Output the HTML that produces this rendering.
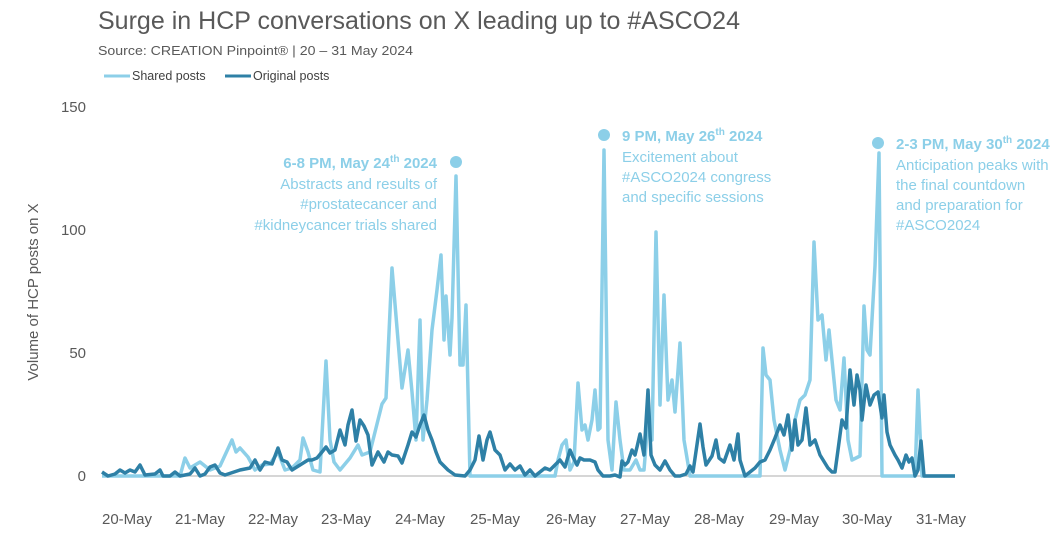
<!DOCTYPE html>
<html><head><meta charset="utf-8"><style>
body{margin:0;background:#fff;}
svg{display:block;font-family:"Liberation Sans",sans-serif;}
</style></head><body>
<svg width="1062" height="540" viewBox="0 0 1062 540">
<text x="98" y="29" font-size="25" fill="#595959" textLength="642" lengthAdjust="spacingAndGlyphs">Surge in HCP conversations on X leading up to #ASCO24</text>
<text x="98" y="55" font-size="13" fill="#595959" textLength="315" lengthAdjust="spacingAndGlyphs">Source: CREATION Pinpoint® |  20 – 31 May 2024</text>
<line x1="104" y1="76" x2="130" y2="76" stroke="#8ccfe8" stroke-width="3"/>
<text x="132" y="80" font-size="12.5" fill="#404040">Shared posts</text>
<line x1="225" y1="76" x2="251" y2="76" stroke="#2e80a6" stroke-width="3"/>
<text x="253" y="80" font-size="12.5" fill="#404040">Original posts</text>
<g font-size="15" fill="#595959" text-anchor="end">
<text x="86" y="112">150</text><text x="86" y="235">100</text><text x="86" y="358">50</text><text x="86" y="481">0</text>
</g>
<text transform="translate(38,292) rotate(-90)" font-size="15" fill="#595959" text-anchor="middle">Volume of HCP posts on X</text>
<g font-size="15" fill="#595959" text-anchor="middle">
<text x="127" y="524">20-May</text><text x="200" y="524">21-May</text><text x="273" y="524">22-May</text><text x="346" y="524">23-May</text><text x="420" y="524">24-May</text><text x="495" y="524">25-May</text><text x="571" y="524">26-May</text><text x="645" y="524">27-May</text><text x="719" y="524">28-May</text><text x="794" y="524">29-May</text><text x="867" y="524">30-May</text><text x="941" y="524">31-May</text>
</g>
<line x1="102" y1="476" x2="955" y2="476" stroke="#c8c8c8" stroke-width="1.5"/>
<polyline fill="none" stroke="#8ccfe8" stroke-width="3.5" stroke-linejoin="round" points="102,476 180,476 185,458 190,468 200,462 210,470 220,466 232,440 236,452 240,448 248,457 255,470 262,465 270,464 278,452 285,470 292,468 300,460 303,438 308,452 313,470 320,472 326,361 330,440 334,462 340,470 350,458 358,445 362,455 370,452 378,420 382,404 386,398 392,268 398,340 402,388 408,350 412,392 416,440 420,320 423,440 427,400 432,330 437,290 441,255 444,340 446,296 450,355 452,318 456,176 460,365 463,365 466,305 470,476 555,476 558,460 562,445 566,440 570,470 574,462 578,383 582,430 585,425 588,440 592,420 595,390 598,430 600,428 604,150 608,440 612,470 616,402 620,440 624,470 630,470 636,460 640,470 644,470 648,420 652,440 656,232 660,405 664,295 668,400 672,380 675,412 680,343 684,440 690,476 760,476 763,348 766,375 770,380 774,420 780,450 785,470 790,450 795,420 800,400 805,395 810,380 814,242 818,320 822,315 826,360 829,330 832,360 836,400 840,410 844,358 848,440 852,460 860,456 864,306 867,350 870,355 875,266 879,153 882,476 915,476 918,390 922,476 955,476"/>
<polyline fill="none" stroke="#2e80a6" stroke-width="3.5" stroke-linejoin="round" points="102,472 108,476 115,474 120,470 125,473 130,470 135,472 140,465 145,475 155,474 160,470 163,476 170,476 175,472 180,476 190,474 195,468 200,476 205,474 210,467 215,465 220,473 225,475 240,470 250,468 255,460 260,470 265,462 272,464 278,448 282,460 287,462 292,470 300,465 308,460 312,460 317,458 322,452 326,447 330,453 335,450 340,430 345,445 348,425 352,410 356,441 360,420 364,426 368,435 372,465 378,452 384,462 388,452 392,455 398,456 402,463 408,445 412,432 416,437 420,425 424,415 428,430 432,440 436,452 440,462 448,470 455,475 465,476 470,470 475,460 479,436 483,460 487,440 490,432 495,450 500,455 505,470 510,464 515,470 520,466 525,475 530,470 535,476 540,472 545,468 550,470 560,460 565,467 570,450 573,457 577,465 580,458 584,460 590,460 595,462 598,470 603,476 610,476 615,475 620,477 622,461 625,465 628,462 632,450 635,455 637,447 640,434 644,455 648,390 651,455 655,465 660,470 665,461 670,470 675,476 680,476 686,474 690,466 693,472 700,424 703,447 706,465 712,456 716,440 719,458 724,462 730,445 734,460 738,434 740,460 745,476 750,472 755,468 760,462 765,460 770,450 775,438 780,425 784,435 788,415 792,450 795,420 798,445 802,440 806,408 810,445 815,440 820,455 828,468 832,472 835,472 838,450 842,420 846,428 850,370 854,405 857,375 860,390 862,420 866,385 870,405 874,395 878,392 882,418 884,395 887,432 890,445 895,455 898,460 902,468 906,455 909,462 912,458 915,476 918,470 921,441 924,476 955,476"/>
<g fill="#8ccfe8">
<circle cx="456" cy="162" r="6"/><circle cx="604" cy="135" r="6"/><circle cx="878" cy="143" r="6"/>
</g>
<g font-size="15" fill="#8ccfe8">
<text x="437" y="168" text-anchor="end" font-weight="bold">6-8 PM, May 24<tspan font-size="10" dy="-6">th</tspan><tspan dy="6"> 2024</tspan></text>
<text x="437" y="189" text-anchor="end">Abstracts and results of</text>
<text x="437" y="209" text-anchor="end">#prostatecancer and</text>
<text x="437" y="230" text-anchor="end">#kidneycancer trials shared</text>
<text x="622" y="141" font-weight="bold">9 PM, May 26<tspan font-size="10" dy="-6">th</tspan><tspan dy="6"> 2024</tspan></text>
<text x="622" y="162">Excitement about</text>
<text x="622" y="182">#ASCO2024 congress</text>
<text x="622" y="202">and specific sessions</text>
<text x="896" y="149" font-weight="bold">2-3 PM, May 30<tspan font-size="10" dy="-6">th</tspan><tspan dy="6"> 2024</tspan></text>
<text x="896" y="170">Anticipation peaks with</text>
<text x="896" y="190">the final countdown</text>
<text x="896" y="210">and preparation for</text>
<text x="896" y="230">#ASCO2024</text>
</g>
</svg>
</body></html>
